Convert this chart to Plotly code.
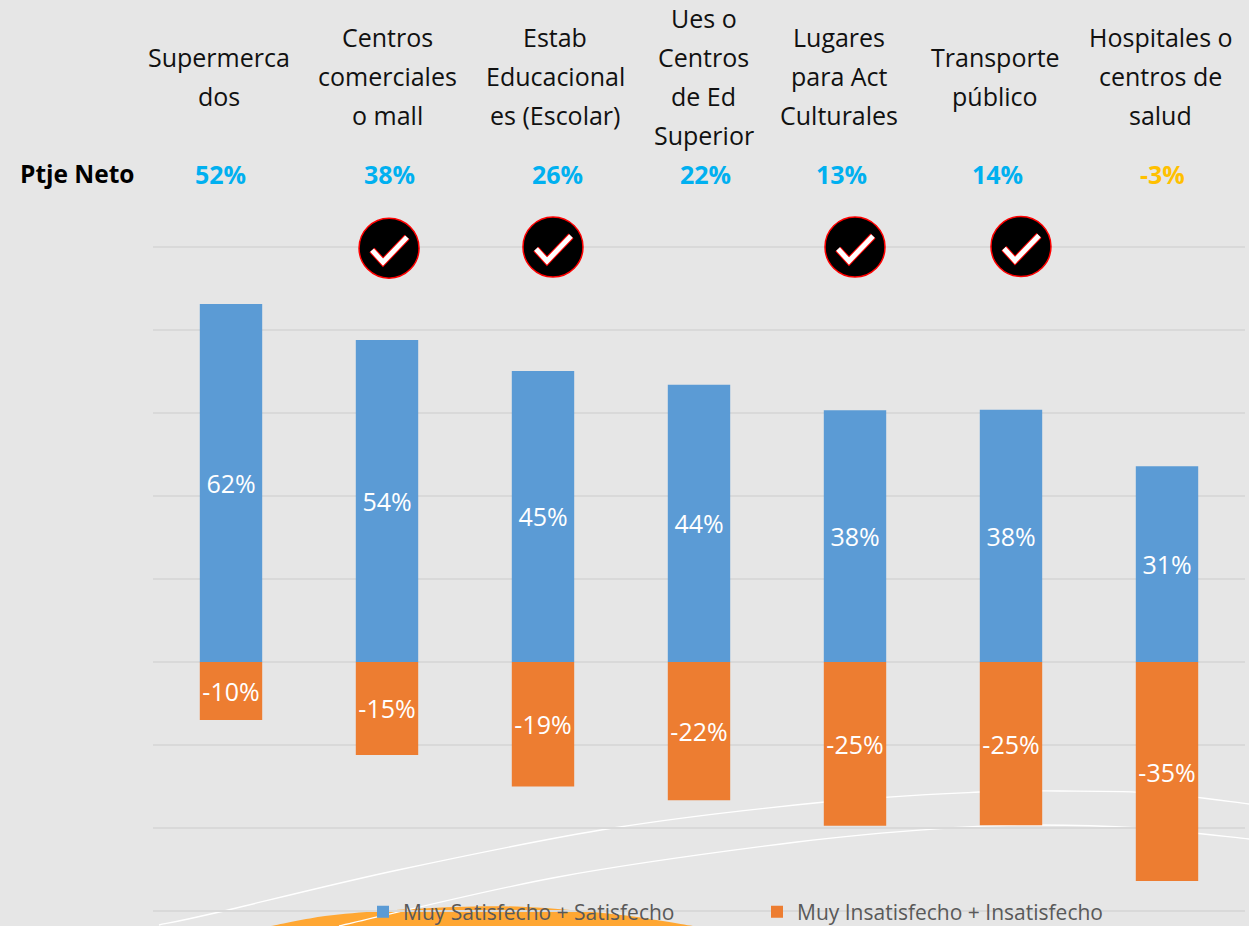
import plotly.graph_objects as go

W, H = 1249, 926
L, R, T, B = 153, 1245, 244, 914
ZERO_Y = 662
UNIT_PX = 5.533

category_lines = [
    ["Supermerca", "dos"],
    ["Centros", "comerciales", "o mall"],
    ["Estab", "Educacional", "es (Escolar)"],
    ["Ues o", "Centros", "de Ed", "Superior"],
    ["Lugares", "para Act", "Culturales"],
    ["Transporte", "público"],
    ["Hospitales o", "centros de", "salud"],
]
bar_positions = [0, 1, 2, 3, 4, 5, 6]
label_positions = [-0.077, 1.006, 2.08, 3.03, 3.90, 4.90, 5.96]
# bar lengths, on an axis with 15-unit gridlines
satisfied_bars = [64.7, 58.2, 52.6, 50.1, 45.5, 45.6, 35.4]
unsatisfied_bars = [-10.5, -16.8, -22.5, -25.0, -29.6, -29.5, -39.6]
satisfied_labels = ["62%", "54%", "45%", "44%", "38%", "38%", "31%"]
unsatisfied_labels = ["-10%", "-15%", "-19%", "-22%", "-25%", "-25%", "-35%"]
net_labels = ["52%", "38%", "26%", "22%", "13%", "14%", "-3%"]
net_colors = ["#00b0f0"] * 6 + ["#ffc000"]
series_names = ["Muy Satisfecho + Satisfecho", "Muy Insatisfecho + Insatisfecho"]
check_x = [1.013, 2.064, 4.0, 5.064]
check_y = [74.8, 75.0, 75.0, 75.1]

FONT = "Open Sans"


def px(x):
    return (x - L) / (R - L)


def py(y):
    return (B - y) / (B - T)


def smooth(points):
    """Smooth SVG path through decorative background points."""
    p = [(px(a), py(b)) for a, b in points]
    d = f"M {p[0][0]} {p[0][1]}"
    for i in range(len(p) - 1):
        p0 = p[max(i - 1, 0)]
        p1, p2 = p[i], p[i + 1]
        p3 = p[min(i + 2, len(p) - 1)]
        c1 = (p1[0] + (p2[0] - p0[0]) / 6, p1[1] + (p2[1] - p0[1]) / 6)
        c2 = (p2[0] - (p3[0] - p1[0]) / 6, p2[1] - (p3[1] - p1[1]) / 6)
        d += f" C {c1[0]} {c1[1]} {c2[0]} {c2[1]} {p2[0]} {p2[1]}"
    return d


fig = go.Figure()
for vals, labels, name, color in [
    (satisfied_bars, satisfied_labels, series_names[0], "#5b9bd5"),
    (unsatisfied_bars, unsatisfied_labels, series_names[1], "#ed7d31"),
]:
    fig.add_bar(
        x=bar_positions, y=vals, name=name, marker_color=color, marker_line_width=0,
        width=0.4, text=labels, textposition="inside", insidetextanchor="middle",
        textangle=0, constraintext="none",
        insidetextfont=dict(family=FONT, size=25, color="white"), hoverinfo="skip",
    )

# check badges
fig.add_scatter(
    x=check_x, y=check_y, mode="markers", showlegend=False, hoverinfo="skip", cliponaxis=False,
    marker=dict(symbol="circle", size=60, color="black", line=dict(color="#ff0000", width=1.5)),
)

shapes = [dict(type="path", xref="paper", yref="paper",
               path=smooth([(271, 926), (325, 916), (382, 911), (455, 907), (526, 907), (621, 915), (693, 926)]) + " Z",
               fillcolor="#ffa733", line_width=0, layer="below")]
curve_a = [(159, 925), (215, 913), (398, 870), (613, 828), (825, 802), (980, 792), (1060, 791), (1155, 793), (1249, 804)]
curve_b = [(339, 926), (558, 877), (797, 842), (948, 828), (1036, 825), (1139, 828), (1249, 839)]
for pts in (curve_a, curve_b):
    shapes.append(dict(type="path", xref="paper", yref="paper", path=smooth(pts),
                       line=dict(color="white", width=1.3), layer="below"))
for cx, cy in zip(check_x, check_y):
    ax = px(231 + 156 * cx)
    ay = py(ZERO_Y - UNIT_PX * cy)
    for color, width in [("#ff0000", 7), ("white", 5)]:
        shapes.append(dict(type="path", xref="paper", yref="paper", xsizemode="pixel", ysizemode="pixel",
                           xanchor=ax, yanchor=ay, path="M -17 -2 L -6 -14 L 18 11",
                           line=dict(color=color, width=width), layer="above"))

annotations = []
line_ys = {2: [57, 96], 3: [37, 76, 115], 4: [18, 57, 96, 135]}
for pos, lines, net, col in zip(label_positions, category_lines, net_labels, net_colors):
    for text, y in zip(lines, line_ys[len(lines)]):
        annotations.append(dict(x=pos, y=py(y), xref="x", yref="paper", text=text, showarrow=False,
                                xanchor="center", yanchor="middle",
                                font=dict(family=FONT, size=25, color="#111111")))
    annotations.append(dict(x=pos + 0.012, y=py(174), xref="x", yref="paper", text=f"<b>{net}</b>", showarrow=False,
                            xanchor="center", yanchor="middle", font=dict(family=FONT, size=25, color=col)))
annotations.append(dict(x=px(77), y=py(174), xref="paper", yref="paper", text="<b>Ptje Neto</b>", showarrow=False,
                        xanchor="center", yanchor="middle", font=dict(family=FONT, size=24.5, color="black")))

fig.update_layout(
    width=W, height=H, autosize=False, barmode="relative",
    margin=dict(l=L, r=W - R, t=T, b=H - B, pad=0, autoexpand=False),
    paper_bgcolor="#e6e6e6", plot_bgcolor="#e6e6e6",
    showlegend=True,
    legend=dict(orientation="h", x=px(363), y=py(912), xanchor="left", yanchor="middle",
                bgcolor="rgba(0,0,0,0)", font=dict(family=FONT, size=21, color="#595959"),
                entrywidth=349, entrywidthmode="pixels", itemclick=False),
    xaxis=dict(range=[-0.5, 6.5], showticklabels=False, showgrid=False, zeroline=False, ticks=""),
    yaxis=dict(range=[-(B - ZERO_Y) / UNIT_PX, (ZERO_Y - T) / UNIT_PX], dtick=15, tick0=0,
               showticklabels=False, showgrid=True, gridcolor="#d9d9d9", gridwidth=2,
               zeroline=False, ticks=""),
    shapes=shapes, annotations=annotations,
)
fig.write_html("out.html", config={"displayModeBar": False},
               post_script="document.body.style.margin='0';document.body.style.background='#e6e6e6';")
